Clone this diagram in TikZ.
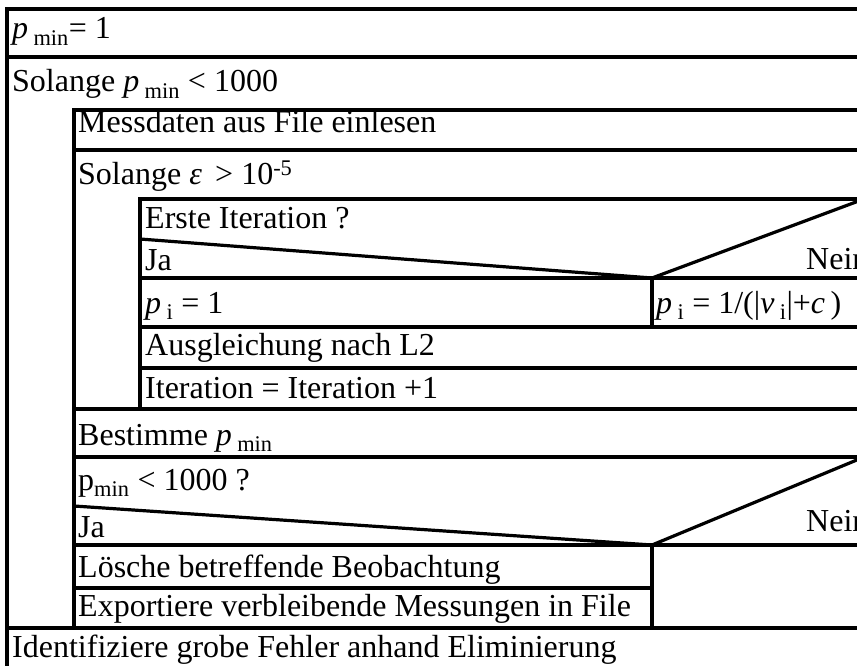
\documentclass[tikz,border=0pt]{standalone}
\usepackage{fontspec}
\setmainfont{Liberation Serif}
\begin{document}
\begin{tikzpicture}[x=1pt,y=-1pt,
  ln/.style={line width=3.4pt, line cap=rect},
  dg/.style={line width=3.2pt, line cap=round},
  lbl/.style={anchor=base west, inner sep=0pt, font=\fontsize{32}{38}\selectfont}]
\useasboundingbox (0,0) rectangle (857,666);
\clip (0,0) rectangle (857,666);
\def\R{864}
% outer frame
\draw[ln] (7,700) -- (7,9) -- (\R,9) -- (\R,700);
\draw[ln] (7,57) -- (\R,57);
% outer loop body
\draw[ln] (74,628) -- (74,110) -- (\R,110);
\draw[ln] (74,150) -- (\R,150);
% inner loop body
\draw[ln] (140,409) -- (140,199) -- (\R,199);
% first decision
\coordinate (s1) at (652,278);
\draw[dg] (140,239) -- (s1) -- (\R,199);
\draw[ln] (140,278) -- (\R,278);
\draw[ln] (652,278) -- (652,327);
\draw[ln] (140,327) -- (\R,327);
\draw[ln] (140,368) -- (\R,368);
\draw[ln] (74,409) -- (\R,409);
\draw[ln] (74,457) -- (\R,457);
% second decision
\coordinate (s2) at (652,545);
\draw[dg] (74,506) -- (s2) -- (\R,457);
\draw[ln] (74,545) -- (\R,545);
\draw[ln] (652,545) -- (652,628);
\draw[ln] (74,588) -- (652,588);
\draw[ln] (7,628) -- (\R,628);
% texts
\node[lbl] (t1) at (12,39) {\textit{p}\,\textsubscript{min}= 1};
\node[lbl] (t2) at (12,92) {Solange \textit{p}\,\textsubscript{min} < 1000};
\node[lbl] (t3) at (78,133) {Messdaten aus File einlesen};
\node[lbl] (t4) at (78,185) {Solange \textit{ε}\, > 10\textsuperscript{-5}};
\node[lbl] (t5) at (145,228) {Erste Iteration ?};
\node[lbl] (t6) at (145,270) {Ja};
\node[lbl] (t7) at (806,269) {Nein};
\node[lbl] (t8) at (145,313) {\textit{p}\,\textsubscript{i} = 1};
\node[lbl] (t9) at (656,313) {\textit{p}\,\textsubscript{i} = 1/(|\textit{v}\,\textsubscript{i}|+\textit{c}\,)};
\node[lbl] (t10) at (145,355) {Ausgleichung nach L2};
\node[lbl] (t11) at (145,398) {Iteration = Iteration +1};
\node[lbl] (t12) at (78,445) {Bestimme \textit{p}\,\textsubscript{min}};
\node[lbl] (t13) at (78,490) {p\textsubscript{min} < 1000 ?};
\node[lbl] (t14) at (78,537) {Ja};
\node[lbl] (t15) at (806,531) {Nein};
\node[lbl] (t16) at (78,577) {Lösche betreffende Beobachtung};
\node[lbl] (t17) at (78,616) {Exportiere verbleibende Messungen in File};
\node[lbl] (t18) at (12,657) {Identifiziere grobe Fehler anhand Eliminierung};
\end{tikzpicture}
\end{document}
